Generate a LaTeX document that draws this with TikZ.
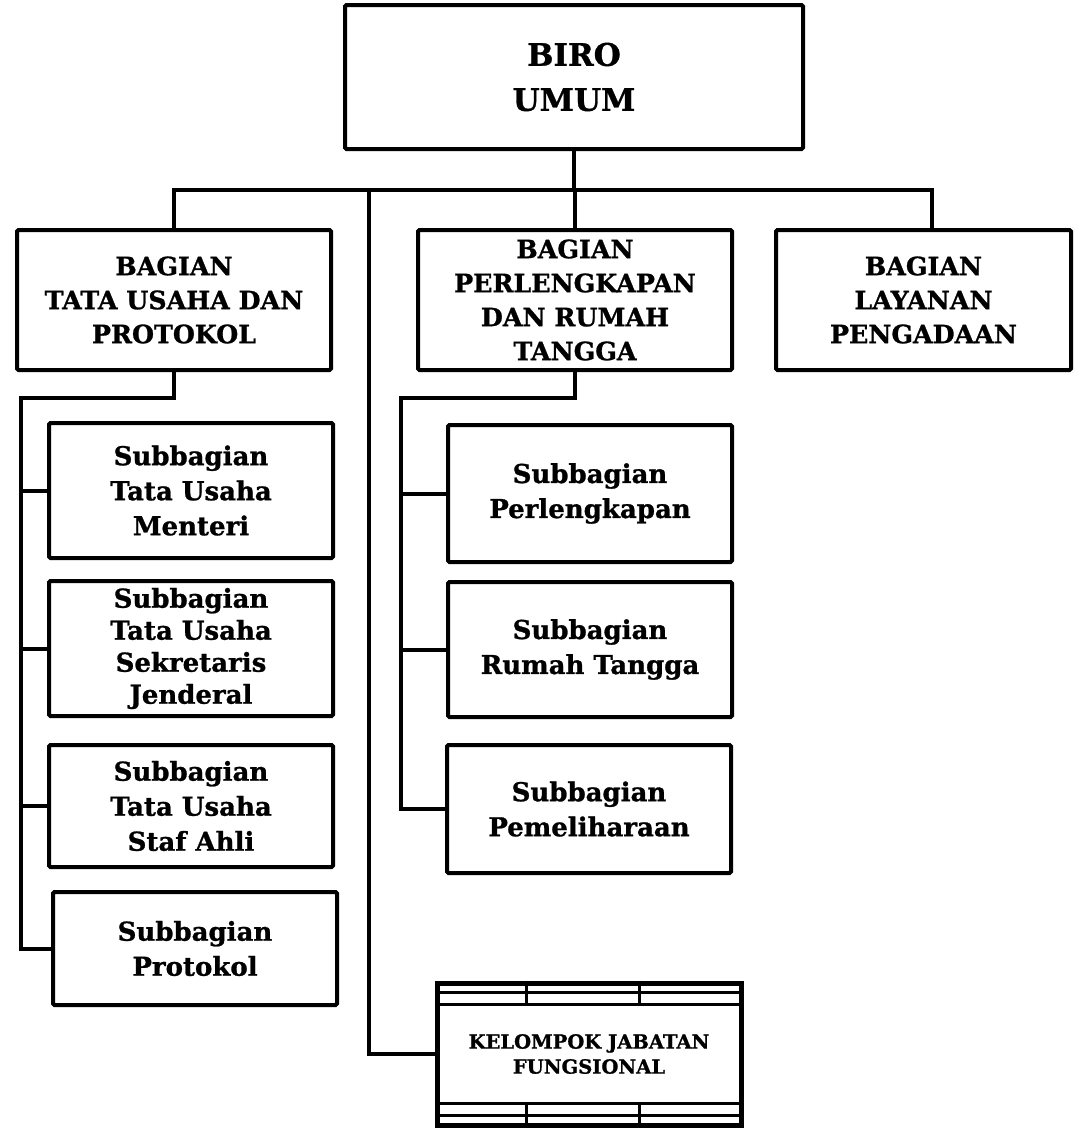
\documentclass[tikz,border=0pt]{standalone}
\usepackage{fontspec}
\setmainfont{DejaVu Serif}[BoldFeatures={FakeBold=1}]

\begin{document}
\begin{tikzpicture}[x=1pt, y=-1pt, line width=4pt]
    \tikzstyle{boxStyle} = [draw=black, line width=4pt, rounded corners=1.5pt,
                            fill=white, align=center, inner sep=0pt]
    \tikzstyle{headStyle} = [boxStyle, minimum width=458pt, minimum height=144pt,
                             font=\bfseries\fontsize{31}{45}\selectfont]
    \tikzstyle{bagStyle} = [boxStyle, minimum height=140pt,
                            font=\bfseries\fontsize{25.3}{34}\selectfont]
    \tikzstyle{subStyle} = [boxStyle, minimum width=284pt,
                            font=\bfseries\fontsize{26}{35}\selectfont]
    \tikzstyle{kjfStyle} = [draw=black, line width=5pt, align=center, inner sep=0pt,
                            minimum width=304pt, minimum height=142pt,
                            font=\bfseries\fontsize{19.5}{25}\selectfont]
    \tikzstyle{lineStyle} = [draw=black, line width=4pt]
    \useasboundingbox (0,0) rectangle (1075,1130);

    \node[headStyle] (biro) at (574,77) {BIRO\\UMUM};

    \node[bagStyle, minimum width=314pt] (bagTU)  at (174,300)   {BAGIAN\\TATA USAHA DAN\\PROTOKOL};
    \node[bagStyle, minimum width=314pt] (bagPRT) at (575,300)   {BAGIAN\\PERLENGKAPAN\\DAN RUMAH\\TANGGA};
    \node[bagStyle, minimum width=295pt] (bagLP)  at (923.5,300) {BAGIAN\\LAYANAN\\PENGADAAN};

    \node[subStyle, minimum height=135pt] (subMen) at (191,490.5) {Subbagian\\Tata Usaha\\Menteri};
    \node[subStyle, minimum height=135pt, font=\bfseries\fontsize{26}{32}\selectfont]
          (subSes) at (191,648.5) {Subbagian\\Tata Usaha\\Sekretaris\\Jenderal};
    \node[subStyle, minimum height=122pt] (subSA)  at (191,806)   {Subbagian\\Tata Usaha\\Staf Ahli};
    \node[subStyle, minimum height=113pt] (subPro) at (195,948.5) {Subbagian\\Protokol};

    \node[subStyle, minimum height=137pt] (subPer) at (590,493.5) {Subbagian\\Perlengkapan};
    \node[subStyle, minimum height=135pt] (subRT)  at (590,649.5) {Subbagian\\Rumah Tangga};
    \node[subStyle, minimum height=128pt] (subPem) at (589,809)   {Subbagian\\Pemeliharaan};

    \node[kjfStyle] (kjf) at (589,1054) {KELOMPOK JABATAN\\FUNGSIONAL};
    \foreach \dy in {12,24}
        \draw[line width=2.5pt] ([yshift=-\dy pt]kjf.north west) -- ([yshift=-\dy pt]kjf.north east)
                                ([yshift=\dy pt]kjf.south west) -- ([yshift=\dy pt]kjf.south east);
    \foreach \dx in {92,205} {
        \draw[line width=2.5pt] ([xshift=\dx pt]kjf.north west) -- ([xshift=\dx pt, yshift=-24pt]kjf.north west);
        \draw[line width=2.5pt] ([xshift=\dx pt]kjf.south west) -- ([xshift=\dx pt, yshift=24pt]kjf.south west);
    }

    \coordinate (bus) at (574,190);
    \coordinate (kjfLine) at (369,190);
    \coordinate (leftSpine) at (21,398);
    \coordinate (midSpine) at (401,398);

    \path[lineStyle] (biro.south) -- (bus);
    \path[lineStyle] (bagTU.north) |- (bus) -| ([xshift=8pt]bagLP.north);
    \path[lineStyle] (bagPRT.north) -- (bagPRT.north |- bus);
    \path[lineStyle] (kjfLine) |- (kjf.west);

    \path[lineStyle] (bagTU.south) |- (leftSpine) |- (subPro.west);
    \foreach \to in {subMen,subSes,subSA}
        \path[lineStyle] (leftSpine |- \to.west) -- (\to.west);

    \path[lineStyle] (bagPRT.south) |- (midSpine) |- (subPem.west);
    \foreach \to in {subPer,subRT}
        \path[lineStyle] (midSpine |- \to.west) -- (\to.west);
\end{tikzpicture}
\end{document}
